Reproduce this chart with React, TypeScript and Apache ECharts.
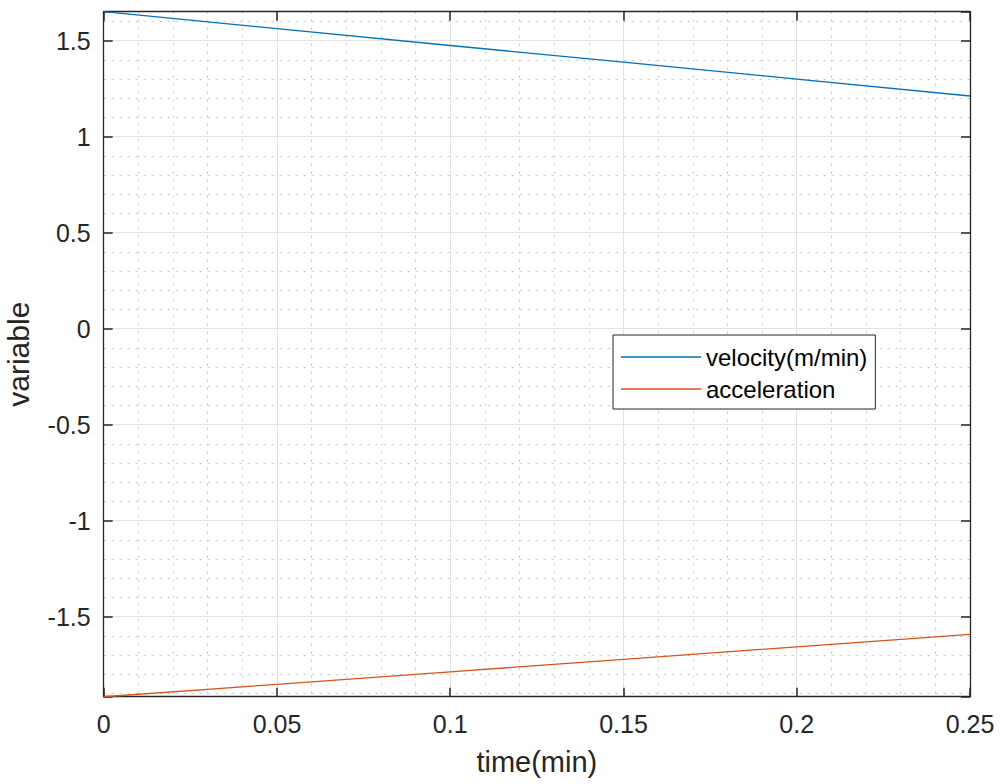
import React, { useEffect, useRef } from "react";
import * as echarts from "echarts";

const timeValues = [0, 0.05, 0.1, 0.15, 0.2, 0.25];
const velocityValues = [1.651, 1.563, 1.475, 1.388, 1.3, 1.212];
const accelerationValues = [-1.917, -1.852, -1.787, -1.722, -1.657, -1.592];
const seriesNames = ["velocity(m/min)", "acceleration"];
const xTickStep = 0.05;
const yTickStep = 0.5;
const xRange = [0, 0.25];
const yRange = [-1.9167, 1.651];

const FONT = "'Liberation Sans', Arial, Helvetica, sans-serif";
const AX = "#262626";

export default function App() {
  const ref = useRef<HTMLDivElement>(null);
  useEffect(() => {
    if (!ref.current) return;
    const chart = echarts.init(ref.current, null, { renderer: "svg" });
    const yFmt = (v: number) => {
      const k = v / yTickStep;
      if (Math.abs(k - Math.round(k)) > 1e-6) return "";
      return String(Math.round(k * yTickStep * 10) / 10);
    };
    const xFmt = (v: number) => String(Math.round(v * 100) / 100);
    const baseX = {
      type: "value",
      min: xRange[0],
      max: xRange[1],
      interval: xTickStep,
    };
    const baseY = {
      type: "value",
      min: yRange[0],
      max: yRange[1],
      splitNumber: 7,
    };
    const tick = { show: true, inside: true, length: 9, lineStyle: { color: AX, width: 1.5 } };
    const axisLine = { show: true, onZero: false, lineStyle: { color: AX, width: 1.3 } };
    chart.setOption({
      animation: false,
      backgroundColor: "#ffffff",
      textStyle: { fontFamily: FONT },
      grid: {
        left: 103.7,
        top: 11.7,
        right: 30,
        bottom: 87.3,
        containLabel: false,
        outerBoundsMode: "none",
      },
      legend: {
        show: true,
        orient: "vertical",
        left: 613,
        top: 335,
        data: [
          { name: seriesNames[0], icon: "rect" },
          { name: seriesNames[1], icon: "rect" },
        ],
        itemWidth: 80,
        itemHeight: 1.4,
        itemGap: 6,
        padding: [9, 8, 7, 8],
        borderColor: AX,
        borderWidth: 1,
        backgroundColor: "#ffffff",
        textStyle: { fontFamily: FONT, fontSize: 24, color: "#000000", lineHeight: 26 },
      },
      xAxis: [
        {
          ...baseX,
          position: "bottom",
          name: "time(min)",
          nameLocation: "middle",
          nameGap: 51,
          nameTextStyle: { fontFamily: FONT, fontSize: 29, color: AX },
          axisLine,
          axisTick: tick,
          axisLabel: { show: true, margin: 15, fontSize: 25, color: AX, fontFamily: FONT, formatter: xFmt },
          splitLine: { show: true, lineStyle: { color: "#e3e3e3", width: 1 } },
          minorTick: { show: false, splitNumber: 5 },
          minorSplitLine: { show: true, lineStyle: { color: "#c4c4c4", width: 1, type: [2, 6] } },
        },
        {
          ...baseX,
          position: "top",
          axisLine,
          axisTick: tick,
          axisLabel: { show: false },
          splitLine: { show: false },
        },
      ],
      yAxis: [
        {
          ...baseY,
          position: "left",
          name: "variable",
          nameLocation: "middle",
          nameGap: 70,
          nameTextStyle: { fontFamily: FONT, fontSize: 30, color: AX },
          axisLine,
          axisTick: tick,
          axisLabel: { show: true, margin: 13, fontSize: 25, color: AX, fontFamily: FONT, formatter: yFmt },
          splitLine: { show: true, lineStyle: { color: "#e3e3e3", width: 1 } },
          minorTick: { show: false, splitNumber: 5 },
          minorSplitLine: { show: true, lineStyle: { color: "#c4c4c4", width: 1, type: [2, 6] } },
        },
        {
          ...baseY,
          position: "right",
          axisLine,
          axisTick: tick,
          axisLabel: { show: false },
          splitLine: { show: false },
        },
      ],
      series: [
        {
          name: seriesNames[0],
          type: "line",
          symbol: "none",
          showSymbol: false,
          lineStyle: { color: "#0072BD", width: 1.3 },
          itemStyle: { color: "#0072BD" },
          data: timeValues.map((t, i) => [t, velocityValues[i]]),
        },
        {
          name: seriesNames[1],
          type: "line",
          symbol: "none",
          showSymbol: false,
          lineStyle: { color: "#D95319", width: 1.3 },
          itemStyle: { color: "#D95319" },
          data: timeValues.map((t, i) => [t, accelerationValues[i]]),
        },
      ],
    });
    return () => chart.dispose();
  }, []);
  return (
    <div
      ref={ref}
      style={{ position: "absolute", left: 0, top: 0, width: 1000, height: 784, background: "#fff" }}
    />
  );
}
